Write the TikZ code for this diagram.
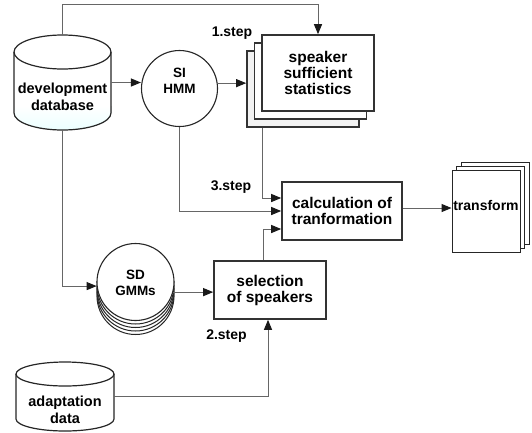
\documentclass[tikz,border=0pt]{standalone}
\usepackage{fontspec}
\setmainfont{Liberation Sans}
\usepackage{tikz}
\usetikzlibrary{positioning}
\usetikzlibrary{arrows.meta}
\newcommand{\boxfont}{\fontsize{15.5}{16}\selectfont\bfseries}
\newcommand{\dbfont}{\fontsize{14.5}{17}\selectfont\bfseries}
\newcommand{\stepfont}{\fontsize{14}{15.5}\selectfont\bfseries}
\newcommand{\gmmfont}{\fontsize{13.5}{16}\selectfont\bfseries}
\tikzstyle{procbox} = [rectangle, draw=black!80, line width=1.6pt, fill=white, align=center, inner sep=0pt, font=\boxfont]
\tikzstyle{pagebox} = [rectangle, draw=black!85, line width=0.9pt, fill=white, inner sep=0pt, minimum width=68pt, minimum height=82pt]
\tikzstyle{modelnode} = [circle, draw=black!85, line width=1.1pt, fill=white, inner sep=0pt]
\tikzstyle{dbnode} = [rectangle, inner sep=0pt]
\tikzstyle{dbline} = [draw=black!85, line width=1.2pt]
\tikzstyle{dbtext} = [align=center, font=\dbfont]
\tikzstyle{flow} = [draw=black!60, line width=1pt]
\tikzstyle{flowarrow} = [flow, -{Triangle[length=10pt,width=8pt,color=black!90]}]
\tikzstyle{steplabel} = [font=\stepfont]

\begin{document}
\begin{tikzpicture}[x=1pt,y=-1pt]
\useasboundingbox (0,0) rectangle (532,432);

%% databases
\fill [top color=white, bottom color=cyan!8] (14,106) -- (14,113) arc [start angle=180, end angle=0, x radius=48.5, y radius=17] -- (111,106) -- cycle;
\path [dbline] (14,52) -- (14,113) arc [start angle=180, end angle=0, x radius=48.5, y radius=17] -- (111,52);
\path [dbline] (62.5,52) ellipse [x radius=48.5, y radius=17];
\node [dbnode, minimum width=97pt, minimum height=95pt] at (62.5,82.5) (devdb) {};
\node [dbtext] at (62.5,97) (devdbtext) {development\\database};

\path [dbline, fill=white] (16,374) -- (16,419) arc [start angle=180, end angle=0, x radius=49, y radius=12] -- (114,374);
\path [dbline] (65,374) ellipse [x radius=49, y radius=12];
\node [dbnode, minimum width=98pt, minimum height=69pt] at (65,396.5) (adapt) {};
\node [dbtext] at (65,410) (adapttext) {adaptation\\data};

%% models
\node [modelnode, minimum size=76pt] at (179.5,88.5) (sihmm) {};
\node [align=center, font=\gmmfont] at (179.5,81) (sihmmtext) {SI\\HMM};

\foreach \dy in {14,10.5,7,3.5}
  \path [dbline, line width=1pt, fill=white] (135.5,282+\dy) circle [radius=38.5];
\node [modelnode, minimum size=77pt] at (135.5,282) (sdgmm) {};
\node [align=center, font=\gmmfont] at (135.5,283) (sdgmmtext) {SD\\GMMs};

%% boxes
\node [procbox, fill=black!5, minimum width=112pt, minimum height=76pt] at (303,89) (statsc) {};
\node [procbox, minimum width=112pt, minimum height=76pt] at (310.5,81) (statsb) {};
\node [procbox, minimum width=112pt, minimum height=76pt] at (318,73) (stats) {speaker\\sufficient\\statistics};

\node [procbox, minimum width=120pt, minimum height=58pt] at (342,211) (calc) {calculation of\\tranformation};
\node [procbox, minimum width=112pt, minimum height=58pt] at (270,290) (sel) {selection\\of speakers};

\node [pagebox] at (495,203) (transc) {};
\node [pagebox] at (490.5,207) (transb) {};
\node [pagebox] at (486,211) (trans) {};
\node [font=\stepfont] at (486,205) (transtext) {transform};

%% connectors
\path [flowarrow] (devdb.north) -- ++(0,-30) -| (stats.north);
\path [flowarrow] (devdb.east) -- (devdb.east -| sihmm.west);
\path [flowarrow] (sihmm.8) -- (sihmm.8 -| statsc.west);
\path [flowarrow] ([xshift=16pt]statsc.south west) |- ([yshift=13pt]calc.west);
\path [flowarrow] (sihmm.south) |- (calc.west);
\path [flowarrow] ([xshift=-7pt]sel.north) |- ([yshift=-18pt]calc.west);
\path [flowarrow] ([yshift=3pt]calc.east) -- ([yshift=3pt]calc.east -| trans.west);
\path [flowarrow] (devdb.south) |- (sdgmm.186);
\path [flowarrow] (sdgmm.-15) -- (sdgmm.-15 -| sel.west);
\path [flowarrow] (adapt.east) -| ([xshift=-2pt]sel.south);

%% annotations
\node [steplabel] at (232,33) (step1) {1.step};
\node [steplabel] at (231,187) (step3) {3.step};
\node [steplabel] at (226.5,336) (step2) {2.step};

\end{tikzpicture}
\end{document}
